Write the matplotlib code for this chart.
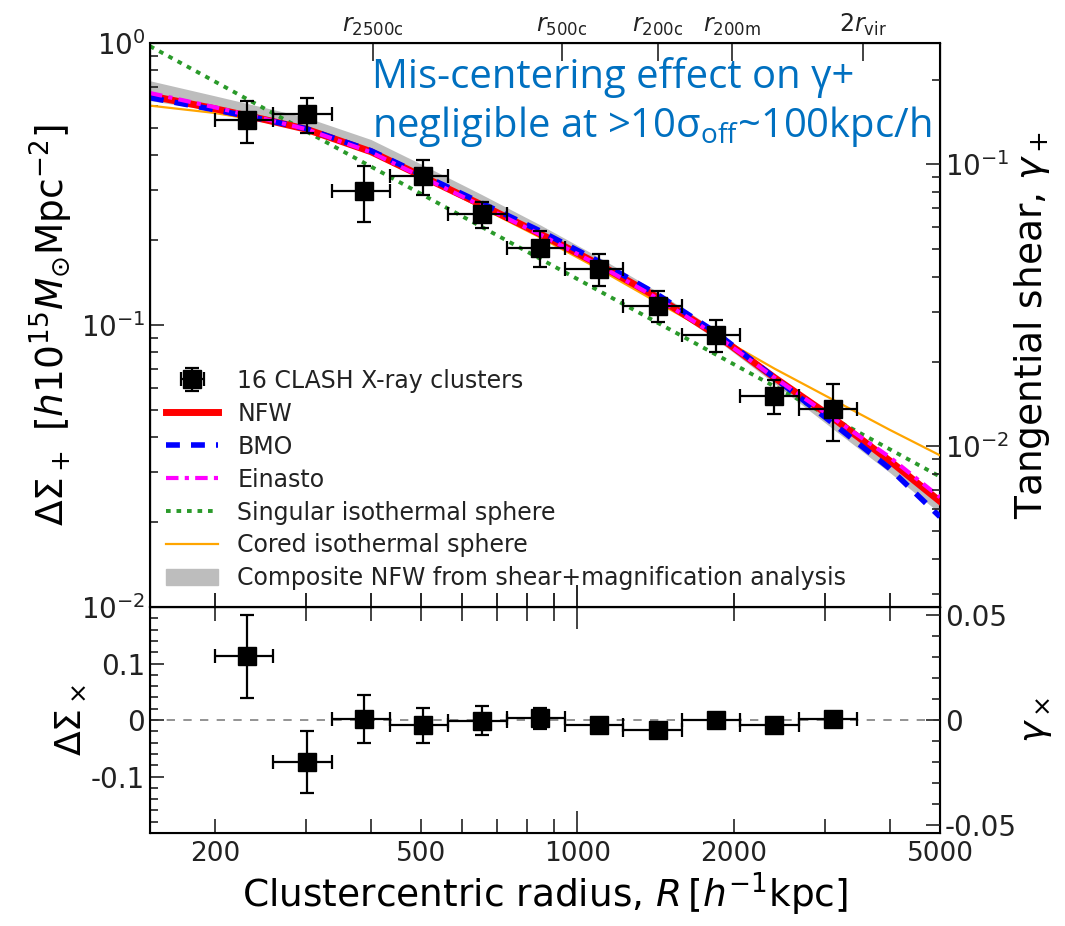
import matplotlib
matplotlib.use("Agg")
import matplotlib.pyplot as plt
from matplotlib.ticker import FixedLocator, FixedFormatter, FuncFormatter, NullFormatter
from matplotlib.lines import Line2D
from matplotlib.patches import Patch

plt.rcParams['axes.unicode_minus'] = False

# stacked clusters: bin centres and bin edges [h^-1 kpc]
R = [231, 301, 388, 504, 654, 849, 1101, 1432, 1848, 2393, 3106]
R_lo = [200, 259, 336, 435, 564, 731, 947, 1227, 1590, 2060, 2670]
R_hi = [259, 336, 435, 564, 731, 947, 1227, 1590, 2060, 2670, 3460]

# tangential and cross profiles
dsig_plus = [0.532, 0.560, 0.298, 0.337, 0.247, 0.188, 0.158, 0.117, 0.0925, 0.0562, 0.0504]
dsig_plus_err = [0.090, 0.081, 0.067, 0.048, 0.027, 0.028, 0.0205, 0.0145, 0.012, 0.0078, 0.0115]
dsig_cross = [0.1125, -0.075, 0.002, -0.009, -0.001, 0.003, -0.008, -0.018, 0.000, -0.008, 0.002]
dsig_cross_err = [0.074, 0.055, 0.043, 0.031, 0.025, 0.019, 0.010, 0.010, 0.010, 0.009, 0.010]

# model curves
R_mod = [150, 200, 250, 300, 400, 500, 650, 850, 1100, 1430, 1850, 2400, 3100, 4000, 5000]
nfw = [0.650, 0.585, 0.535, 0.495, 0.412, 0.338, 0.268, 0.210, 0.164, 0.125, 0.0925, 0.065, 0.047, 0.0330, 0.0237]
bmo = [0.640, 0.580, 0.535, 0.497, 0.415, 0.342, 0.272, 0.215, 0.168, 0.128, 0.094, 0.065, 0.045, 0.0310, 0.0209]
einasto = [0.665, 0.592, 0.538, 0.495, 0.410, 0.336, 0.266, 0.209, 0.163, 0.124, 0.092, 0.065, 0.047, 0.0340, 0.0245]
cored = [0.600, 0.565, 0.527, 0.490, 0.410, 0.335, 0.262, 0.204, 0.158, 0.120, 0.092, 0.0700, 0.0545, 0.0425, 0.0345]
comp_lo = [0.625, 0.575, 0.535, 0.500, 0.420, 0.345, 0.272, 0.210, 0.162, 0.122, 0.089, 0.062, 0.043, 0.0300, 0.0215]
comp_hi = [0.735, 0.650, 0.590, 0.545, 0.455, 0.372, 0.292, 0.226, 0.174, 0.131, 0.096, 0.067, 0.0465, 0.0330, 0.0240]
R_sis = [150, 5000]
sis = [0.975, 0.0290]

# characteristic radii on the top axis
r_marks = [404, 934, 1429, 1985, 3554]
r_labels = [r'$r_{\rm 2500c}$', r'$r_{\rm 500c}$', r'$r_{\rm 200c}$', r'$r_{\rm 200m}$', r'$2r_{\rm vir}$']

conv = 3.71  # DeltaSigma / gamma
xmin, xmax = 150, 5000
tick_color = '#222222'
sis_ls = (0, (1.2, 1.5))
bmo_ls = (0, (2.5, 2))
ein_ls = (0, (3, 1.5, 1, 1.5))

fig = plt.figure(figsize=(10.65, 9.26), dpi=100)
ax1 = fig.add_axes([0.1408, 0.3445, 0.7418, 0.609])
ax2 = fig.add_axes([0.1408, 0.1004, 0.7418, 0.2441])

xerr = [[r - lo for r, lo in zip(R, R_lo)], [hi - r for r, hi in zip(R, R_hi)]]

# ---- upper panel ----
ax1.fill_between(R_mod, comp_lo, comp_hi, color='#bdbdbd', lw=0, zorder=1)
ax1.plot(R_sis, sis, color='#2a9a2a', lw=2.8, ls=sis_ls, zorder=2)
ax1.plot(R_mod, cored, color='orange', lw=1.6, zorder=3)
ax1.plot(R_mod, nfw, color='red', lw=5, zorder=4)
ax1.plot(R_mod, bmo, color='blue', lw=4, ls=bmo_ls, zorder=5)
ax1.plot(R_mod, einasto, color='magenta', lw=3, ls=ein_ls, zorder=6)
data = ax1.errorbar(R, dsig_plus, yerr=dsig_plus_err, xerr=xerr,
                    fmt='s', color='black', ms=13, elinewidth=1.6, capsize=5, capthick=1.6, zorder=10)

ax1.set_xscale('log')
ax1.set_yscale('log')
ax1.set_xlim(xmin, xmax)
ax1.set_ylim(0.01, 1)
ax1.set_ylabel(r'$\Delta\Sigma_+\ [h10^{15}M_{\odot}{\rm Mpc}^{-2}]$', fontsize=27, labelpad=4)

# right gamma axis
ax1r = ax1.twinx()
ax1r.set_yscale('log')
ax1r.set_ylim(0.01 / conv, 1 / conv)
ax1r.set_ylabel(r'Tangential shear, $\gamma_+$', fontsize=27, labelpad=2)

# top characteristic radii
ax1t = ax1.twiny()
ax1t.set_xscale('log')
ax1t.set_xlim(xmin, xmax)
ax1t.xaxis.set_major_locator(FixedLocator(r_marks))
ax1t.xaxis.set_major_formatter(FixedFormatter(r_labels))
ax1t.xaxis.set_minor_locator(FixedLocator([]))
ax1t.tick_params(axis='x', direction='in', length=13, width=1.2, labelsize=17, pad=4, colors=tick_color)

handles = [
    data,
    Line2D([], [], color='red', lw=5),
    Line2D([], [], color='blue', lw=4, ls=bmo_ls),
    Line2D([], [], color='magenta', lw=3, ls=ein_ls),
    Line2D([], [], color='#2a9a2a', lw=2.8, ls=sis_ls),
    Line2D([], [], color='orange', lw=1.6),
    Patch(color='#bdbdbd'),
]
labels = ['16 CLASH X-ray clusters', 'NFW', 'BMO', 'Einasto', 'Singular isothermal sphere',
          'Cored isothermal sphere', 'Composite NFW from shear+magnification analysis']
leg = ax1.legend(handles, labels, loc='lower left', bbox_to_anchor=(0.0, 0.0), frameon=False,
                 fontsize=17, handlelength=2.2, labelspacing=0.38, borderaxespad=0.3)
for t in leg.get_texts():
    t.set_color('#222222')

# ---- lower panel ----
ax2.axhline(0, color='gray', lw=1.2, ls=(0, (5, 5)), zorder=1)
ax2.errorbar(R, dsig_cross, yerr=dsig_cross_err, xerr=xerr,
             fmt='s', color='black', ms=13, elinewidth=1.6, capsize=5, capthick=1.6, zorder=10)
ax2.set_xscale('log')
ax2.set_xlim(xmin, xmax)
ax2.set_ylim(-0.2, 0.2)
ax2.set_yticks([-0.1, 0, 0.1])
ax2.set_yticklabels(['-0.1', '0', '0.1'])
ax2.yaxis.set_minor_locator(FixedLocator([-0.18, -0.16, -0.14, -0.12, -0.08, -0.06, -0.04, -0.02,
                                          0.02, 0.04, 0.06, 0.08, 0.12, 0.14, 0.16, 0.18]))
ax2.set_ylabel(r'$\Delta\Sigma_\times$', fontsize=26, labelpad=2)
ax2.set_xlabel(r'Clustercentric radius, $R\,[h^{-1}{\rm kpc}]$', fontsize=27, labelpad=2)

ax2r = ax2.twinx()
ax2r.set_ylim(-0.2 / conv, 0.2 / conv)
ax2r.set_yticks([-0.05, 0, 0.05])
ax2r.set_yticklabels(['-0.05', '0', '0.05'])
ax2r.yaxis.set_minor_locator(FixedLocator([-0.04, -0.03, -0.02, -0.01, 0.01, 0.02, 0.03, 0.04]))
ax2r.set_ylabel(r'$\gamma_\times$', fontsize=26, labelpad=2)

# x ticks: 1000 major, the rest minor, a few labelled
minor_x = [200, 300, 400, 500, 600, 700, 800, 900, 2000, 3000, 4000, 5000]
for ax in (ax1, ax2):
    ax.xaxis.set_major_locator(FixedLocator([1000]))
    ax.xaxis.set_minor_locator(FixedLocator(minor_x))
ax1.xaxis.set_major_formatter(NullFormatter())
ax1.xaxis.set_minor_formatter(NullFormatter())
ax2.xaxis.set_major_formatter(FixedFormatter(['1000']))
ax2.xaxis.set_minor_formatter(FuncFormatter(
    lambda v, p: str(int(round(v))) if int(round(v)) in (200, 500, 2000, 5000) else ''))

ax1.tick_params(axis='x', which='major', direction='in', length=16, width=1.2, top=False, bottom=True)
ax1.tick_params(axis='x', which='minor', direction='in', length=10, width=1.2, top=False, bottom=True)
ax2.tick_params(axis='x', which='major', direction='in', length=16, width=1.2, top=True, bottom=True,
                labelsize=19, pad=6, colors=tick_color)
ax2.tick_params(axis='x', which='minor', direction='in', length=10, width=1.2, top=True, bottom=True,
                labelsize=19, pad=6, colors=tick_color)
for ax in (ax1, ax1r, ax2, ax2r):
    ax.tick_params(axis='y', which='major', direction='in', length=10, width=1.2, labelsize=20,
                   colors=tick_color)
    ax.tick_params(axis='y', which='minor', direction='in', length=6, width=1.2, colors=tick_color)
for ax in (ax1, ax2):
    for s in ax.spines.values():
        s.set_linewidth(1.5)

fig.text(372 / 1065, 1 - 88 / 926, 'Mis-centering effect on γ+', color='#0070C0',
         fontsize=28.8, family=['Open Sans', 'DejaVu Sans'], va='baseline', zorder=20)
fig.text(372 / 1065, 1 - 137 / 926, r'negligible at >10$\mathregular{σ_{off}}$~100kpc/h', color='#0070C0',
         fontsize=28.8, family=['Open Sans', 'DejaVu Sans'], va='baseline', zorder=20)

fig.savefig('out.png', dpi=100)
